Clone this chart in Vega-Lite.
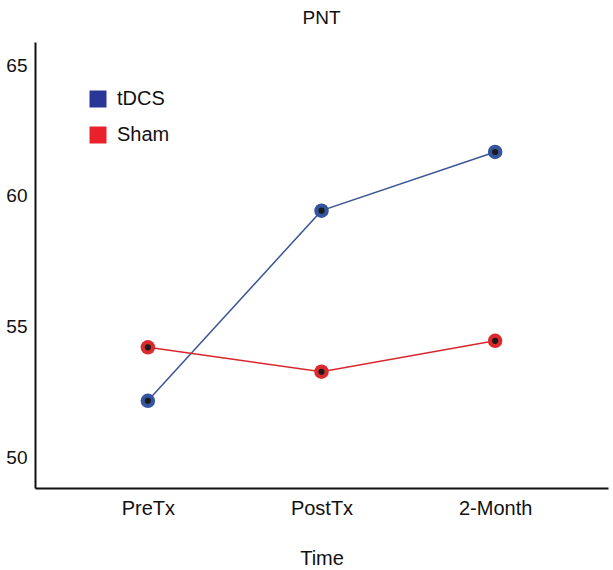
{
  "$schema": "https://vega.github.io/schema/vega-lite/v6.json",
  "autosize": "none",
  "width": 573,
  "height": 446,
  "padding": {"left": 35, "top": 42, "right": 5, "bottom": 82},
  "background": "white",
  "config": {
    "font": "Liberation Sans",
    "view": {"stroke": null}
  },
  "title": {"text": "PNT", "fontSize": 19, "fontWeight": "normal", "color": "#111", "offset": 14, "anchor": "middle"},
  "data": {
    "values": [
      {"Time": "PreTx", "Group": "tDCS", "PNT": 52.18},
      {"Time": "PostTx", "Group": "tDCS", "PNT": 59.44},
      {"Time": "2-Month", "Group": "tDCS", "PNT": 61.68},
      {"Time": "PreTx", "Group": "Sham", "PNT": 54.22},
      {"Time": "PostTx", "Group": "Sham", "PNT": 53.29},
      {"Time": "2-Month", "Group": "Sham", "PNT": 54.47}
    ]
  },
  "encoding": {
    "x": {
      "field": "Time", "type": "nominal", "sort": ["PreTx", "PostTx", "2-Month"],
      "scale": {"type": "point", "padding": 0.65},
      "axis": {"labelAngle": 0, "ticks": false, "labelPadding": 10, "labelFontSize": 20, "labelColor": "#111", "domainColor": "#111", "domainWidth": 2, "grid": false, "title": "Time", "titleFontSize": 20, "titleFontWeight": "normal", "titleColor": "#111", "titlePadding": 30}
    },
    "y": {
      "field": "PNT", "type": "quantitative",
      "scale": {"domain": [48.85, 65.88], "nice": false, "zero": false},
      "axis": {"values": [50, 55, 60, 65], "ticks": false, "labelPadding": 8, "labelFontSize": 19, "labelColor": "#111", "domainColor": "#111", "domainWidth": 2, "grid": false, "title": null}
    }
  },
  "layer": [
    {
      "mark": {"type": "point", "filled": true, "opacity": 0, "size": 1},
      "encoding": {
        "color": {
          "field": "Group", "type": "nominal",
          "scale": {"domain": ["tDCS", "Sham"], "range": ["#2b3796", "#e8212b"]},
          "legend": {
            "title": null, "orient": "none", "legendX": 53, "legendY": 47,
            "symbolType": "square", "symbolSize": 289, "symbolStrokeWidth": 0, "symbolOpacity": 1,
            "labelFontSize": 20, "labelColor": "#111", "labelOffset": 9, "rowPadding": 16
          }
        }
      }
    },
    {
      "mark": {"type": "line", "strokeWidth": 1.5},
      "encoding": {
        "stroke": {"field": "Group", "type": "nominal", "scale": {"domain": ["tDCS", "Sham"], "range": ["#3b5597", "#d9262e"]}, "legend": null},
        "detail": {"field": "Group"}
      }
    },
    {
      "mark": {"type": "point", "filled": true, "opacity": 1, "size": 210},
      "encoding": {
        "fill": {"field": "Group", "type": "nominal", "scale": {"domain": ["tDCS", "Sham"], "range": ["#34559e", "#da2a2e"]}, "legend": null}
      }
    },
    {"mark": {"type": "point", "filled": true, "opacity": 1, "size": 38, "color": "#1a1a1a"}}
  ]
}
